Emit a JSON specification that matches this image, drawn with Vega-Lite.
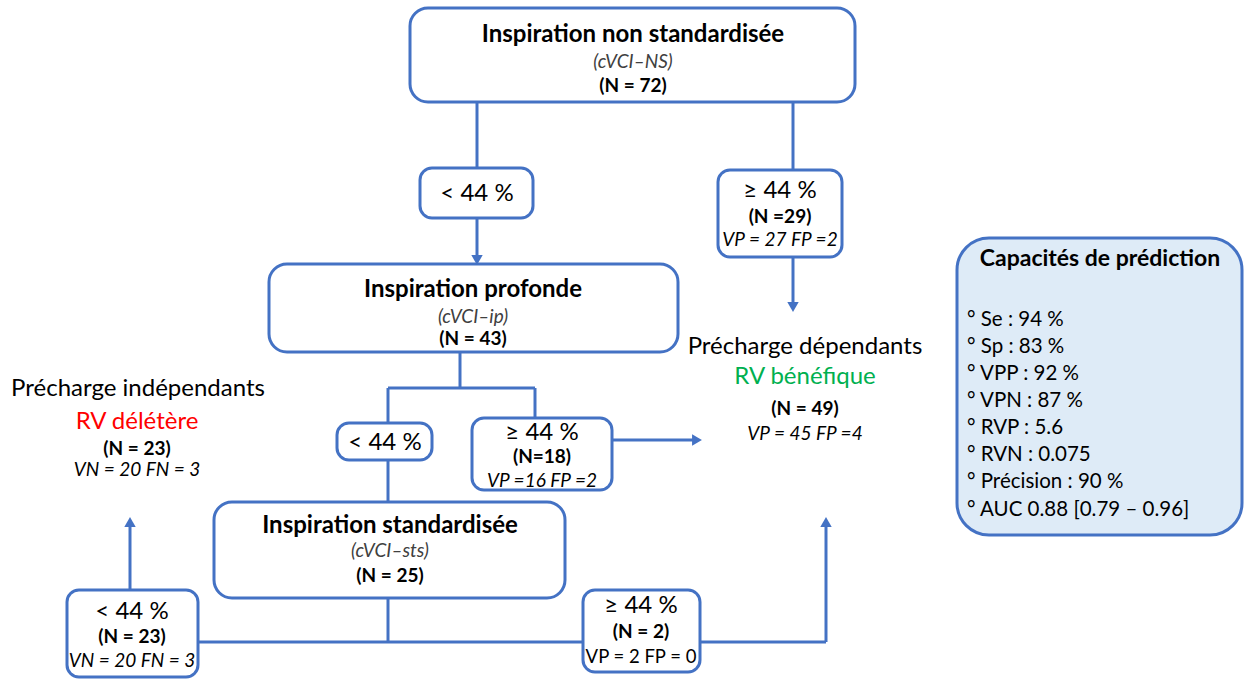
{
  "$schema": "https://vega.github.io/schema/vega-lite/v6.json",
  "width": 1245,
  "height": 680,
  "autosize": {"type": "fit", "contains": "padding"},
  "padding": 0,
  "background": "white",
  "config": {"view": {"stroke": null}, "text": {"font": "Lato"}},
  "datasets": {
    "boxes": [
      {"id": "root", "kind": "big", "x1": 410, "x2": 855, "y1": 8, "y2": 102},
      {"id": "lt1", "kind": "small", "x1": 420, "x2": 533, "y1": 168, "y2": 218},
      {"id": "ge1", "kind": "small", "x1": 718, "x2": 842, "y1": 170, "y2": 257},
      {"id": "ip", "kind": "big", "x1": 269, "x2": 678, "y1": 264, "y2": 352},
      {"id": "lt2", "kind": "small", "x1": 337, "x2": 432, "y1": 423, "y2": 460},
      {"id": "ge2", "kind": "small", "x1": 472, "x2": 612, "y1": 418, "y2": 490},
      {"id": "sts", "kind": "big", "x1": 214, "x2": 565, "y1": 502, "y2": 598},
      {"id": "lt3", "kind": "small", "x1": 67, "x2": 198, "y1": 590, "y2": 677},
      {"id": "ge3", "kind": "small", "x1": 583, "x2": 700, "y1": 590, "y2": 672},
      {"id": "pred", "kind": "pred", "x1": 957, "x2": 1242, "y1": 238, "y2": 535}
    ],
    "lines": [
      {"x1": 477, "y1": 102, "x2": 477, "y2": 168},
      {"x1": 793, "y1": 102, "x2": 793, "y2": 170},
      {"x1": 477, "y1": 218, "x2": 477, "y2": 258},
      {"x1": 793, "y1": 257, "x2": 793, "y2": 305},
      {"x1": 460, "y1": 352, "x2": 460, "y2": 388},
      {"x1": 388, "y1": 388, "x2": 535, "y2": 388},
      {"x1": 388, "y1": 388, "x2": 388, "y2": 423},
      {"x1": 535, "y1": 388, "x2": 535, "y2": 418},
      {"x1": 388, "y1": 460, "x2": 388, "y2": 502},
      {"x1": 612, "y1": 440, "x2": 694, "y2": 440},
      {"x1": 388, "y1": 598, "x2": 388, "y2": 642},
      {"x1": 198, "y1": 642, "x2": 583, "y2": 642},
      {"x1": 700, "y1": 642, "x2": 826, "y2": 642},
      {"x1": 826, "y1": 642, "x2": 826, "y2": 525},
      {"x1": 130, "y1": 590, "x2": 130, "y2": 525}
    ],
    "arrows": [
      {"x": 477, "y": 260, "dir": "down"},
      {"x": 793, "y": 307, "dir": "down"},
      {"x": 697, "y": 440, "dir": "right"},
      {"x": 826, "y": 522, "dir": "up"},
      {"x": 130, "y": 522, "dir": "up"}
    ],
    "texts": [
      {"x": 633, "y": 35, "t": "Inspiration non standardisée", "s": "title"},
      {"x": 633, "y": 62, "t": "(cVCI–NS)", "s": "sub"},
      {"x": 633, "y": 86, "t": "(N = 72)", "s": "n"},
      {"x": 477, "y": 194, "t": "< 44 %", "s": "big"},
      {"x": 780, "y": 191, "t": "≥ 44 %", "s": "big"},
      {"x": 780, "y": 217, "t": "(N =29)", "s": "n"},
      {"x": 780, "y": 240, "t": "VP = 27 FP =2", "s": "it"},
      {"x": 473, "y": 290, "t": "Inspiration profonde", "s": "title"},
      {"x": 473, "y": 317, "t": "(cVCI–ip)", "s": "sub"},
      {"x": 473, "y": 339, "t": "(N = 43)", "s": "n"},
      {"x": 805, "y": 347, "t": "Précharge dépendants", "s": "big"},
      {"x": 805, "y": 377, "t": "RV bénéfique", "s": "pos"},
      {"x": 805, "y": 409, "t": "(N = 49)", "s": "n"},
      {"x": 805, "y": 434, "t": "VP = 45 FP =4", "s": "it"},
      {"x": 138, "y": 389, "t": "Précharge indépendants", "s": "big"},
      {"x": 137, "y": 422, "t": "RV délétère", "s": "neg"},
      {"x": 137, "y": 449, "t": "(N = 23)", "s": "n"},
      {"x": 137, "y": 470, "t": "VN = 20 FN = 3", "s": "it"},
      {"x": 385, "y": 443, "t": "< 44 %", "s": "big"},
      {"x": 542, "y": 433, "t": "≥ 44 %", "s": "big"},
      {"x": 542, "y": 457, "t": "(N=18)", "s": "n"},
      {"x": 542, "y": 481, "t": "VP =16  FP =2", "s": "it"},
      {"x": 390, "y": 526, "t": "Inspiration standardisée", "s": "title"},
      {"x": 390, "y": 551, "t": "(cVCI–sts)", "s": "sub"},
      {"x": 390, "y": 576, "t": "(N = 25)", "s": "n"},
      {"x": 132, "y": 612, "t": "< 44 %", "s": "big"},
      {"x": 132, "y": 637, "t": "(N = 23)", "s": "n"},
      {"x": 132, "y": 661, "t": "VN = 20 FN = 3", "s": "it"},
      {"x": 641, "y": 606, "t": "≥ 44 %", "s": "big"},
      {"x": 641, "y": 632, "t": "(N = 2)", "s": "n"},
      {"x": 641, "y": 657, "t": "VP = 2 FP = 0", "s": "reg"},
      {"x": 1100, "y": 259, "t": "Capacités de prédiction", "s": "ptitle"},
      {"x": 967, "y": 320, "t": "° Se : 94 %", "s": "item"},
      {"x": 967, "y": 347, "t": "° Sp : 83 %", "s": "item"},
      {"x": 967, "y": 374, "t": "° VPP : 92 %", "s": "item"},
      {"x": 967, "y": 401, "t": "° VPN : 87 %", "s": "item"},
      {"x": 967, "y": 428, "t": "° RVP : 5.6", "s": "item"},
      {"x": 967, "y": 455, "t": "° RVN : 0.075", "s": "item"},
      {"x": 967, "y": 482, "t": "° Précision : 90 %", "s": "item"},
      {"x": 967, "y": 510, "t": "° AUC 0.88 [0.79 – 0.96]", "s": "item"}
    ]
  },
  "layer": [
    {
      "data": {"name": "lines"},
      "mark": {"type": "rule", "stroke": "#4472C4", "strokeWidth": 3},
      "encoding": {
        "x": {"field": "x1", "type": "quantitative", "scale": {"domain": [0, 1245], "nice": false, "zero": false}, "axis": null},
        "x2": {"field": "x2"},
        "y": {"field": "y1", "type": "quantitative", "scale": {"domain": [0, 680], "nice": false, "zero": false, "reverse": true}, "axis": null},
        "y2": {"field": "y2"}
      }
    },
    {
      "data": {"name": "boxes"},
      "transform": [{"filter": "datum.kind === 'small'"}],
      "mark": {"type": "rect", "fill": "white", "stroke": "#4472C4", "strokeWidth": 3, "cornerRadius": 12},
      "encoding": {
        "x": {"field": "x1", "type": "quantitative", "scale": {"domain": [0, 1245], "nice": false, "zero": false}, "axis": null},
        "x2": {"field": "x2"},
        "y": {"field": "y1", "type": "quantitative", "scale": {"domain": [0, 680], "nice": false, "zero": false, "reverse": true}, "axis": null},
        "y2": {"field": "y2"}
      }
    },
    {
      "data": {"name": "boxes"},
      "transform": [{"filter": "datum.kind === 'big'"}],
      "mark": {"type": "rect", "fill": "white", "stroke": "#4472C4", "strokeWidth": 3, "cornerRadius": 18},
      "encoding": {
        "x": {"field": "x1", "type": "quantitative", "scale": {"domain": [0, 1245], "nice": false, "zero": false}, "axis": null},
        "x2": {"field": "x2"},
        "y": {"field": "y1", "type": "quantitative", "scale": {"domain": [0, 680], "nice": false, "zero": false, "reverse": true}, "axis": null},
        "y2": {"field": "y2"}
      }
    },
    {
      "data": {"name": "boxes"},
      "transform": [{"filter": "datum.kind === 'pred'"}],
      "mark": {"type": "rect", "fill": "#DEEBF7", "stroke": "#4472C4", "strokeWidth": 3, "cornerRadius": 32},
      "encoding": {
        "x": {"field": "x1", "type": "quantitative", "scale": {"domain": [0, 1245], "nice": false, "zero": false}, "axis": null},
        "x2": {"field": "x2"},
        "y": {"field": "y1", "type": "quantitative", "scale": {"domain": [0, 680], "nice": false, "zero": false, "reverse": true}, "axis": null},
        "y2": {"field": "y2"}
      }
    },
    {
      "data": {"name": "arrows"},
      "mark": {"type": "point", "filled": true, "fill": "#4472C4", "opacity": 1, "size": 130},
      "encoding": {
        "x": {"field": "x", "type": "quantitative", "scale": {"domain": [0, 1245], "nice": false, "zero": false}, "axis": null},
        "y": {"field": "y", "type": "quantitative", "scale": {"domain": [0, 680], "nice": false, "zero": false, "reverse": true}, "axis": null},
        "shape": {"field": "dir", "type": "nominal", "scale": {"domain": ["down", "up", "right"], "range": ["triangle-down", "triangle-up", "triangle-right"]}, "legend": null}
      }
    },
    {
      "data": {"name": "texts"},
      "transform": [{"filter": "datum.s === 'title'"}],
      "mark": {"type": "text", "fontWeight": "bold", "fontSize": 24, "baseline": "middle", "align": "center", "color": "black"},
      "encoding": {
        "x": {"field": "x", "type": "quantitative", "scale": {"domain": [0, 1245], "nice": false, "zero": false}, "axis": null},
        "y": {"field": "y", "type": "quantitative", "scale": {"domain": [0, 680], "nice": false, "zero": false, "reverse": true}, "axis": null},
        "text": {"field": "t"}
      }
    },
    {
      "data": {"name": "texts"},
      "transform": [{"filter": "datum.s === 'sub'"}],
      "mark": {"type": "text", "fontStyle": "italic", "fontSize": 19, "baseline": "middle", "align": "center", "color": "#404040"},
      "encoding": {
        "x": {"field": "x", "type": "quantitative", "scale": {"domain": [0, 1245], "nice": false, "zero": false}, "axis": null},
        "y": {"field": "y", "type": "quantitative", "scale": {"domain": [0, 680], "nice": false, "zero": false, "reverse": true}, "axis": null},
        "text": {"field": "t"}
      }
    },
    {
      "data": {"name": "texts"},
      "transform": [{"filter": "datum.s === 'n'"}],
      "mark": {"type": "text", "fontWeight": "bold", "fontSize": 19, "baseline": "middle", "align": "center", "color": "black"},
      "encoding": {
        "x": {"field": "x", "type": "quantitative", "scale": {"domain": [0, 1245], "nice": false, "zero": false}, "axis": null},
        "y": {"field": "y", "type": "quantitative", "scale": {"domain": [0, 680], "nice": false, "zero": false, "reverse": true}, "axis": null},
        "text": {"field": "t"}
      }
    },
    {
      "data": {"name": "texts"},
      "transform": [{"filter": "datum.s === 'it'"}],
      "mark": {"type": "text", "fontStyle": "italic", "fontSize": 19, "baseline": "middle", "align": "center", "color": "black"},
      "encoding": {
        "x": {"field": "x", "type": "quantitative", "scale": {"domain": [0, 1245], "nice": false, "zero": false}, "axis": null},
        "y": {"field": "y", "type": "quantitative", "scale": {"domain": [0, 680], "nice": false, "zero": false, "reverse": true}, "axis": null},
        "text": {"field": "t"}
      }
    },
    {
      "data": {"name": "texts"},
      "transform": [{"filter": "datum.s === 'reg'"}],
      "mark": {"type": "text", "fontSize": 18.5, "baseline": "middle", "align": "center", "color": "black"},
      "encoding": {
        "x": {"field": "x", "type": "quantitative", "scale": {"domain": [0, 1245], "nice": false, "zero": false}, "axis": null},
        "y": {"field": "y", "type": "quantitative", "scale": {"domain": [0, 680], "nice": false, "zero": false, "reverse": true}, "axis": null},
        "text": {"field": "t"}
      }
    },
    {
      "data": {"name": "texts"},
      "transform": [{"filter": "datum.s === 'big' || datum.s === 'pos' || datum.s === 'neg'"}],
      "mark": {"type": "text", "fontSize": 24, "baseline": "middle", "align": "center"},
      "encoding": {
        "x": {"field": "x", "type": "quantitative", "scale": {"domain": [0, 1245], "nice": false, "zero": false}, "axis": null},
        "y": {"field": "y", "type": "quantitative", "scale": {"domain": [0, 680], "nice": false, "zero": false, "reverse": true}, "axis": null},
        "text": {"field": "t"},
        "color": {"field": "s", "type": "nominal", "scale": {"domain": ["big", "pos", "neg"], "range": ["#000000", "#00B050", "#FF0000"]}, "legend": null}
      }
    },
    {
      "data": {"name": "texts"},
      "transform": [{"filter": "datum.s === 'ptitle'"}],
      "mark": {"type": "text", "fontWeight": "bold", "fontSize": 23, "baseline": "middle", "align": "center", "color": "black"},
      "encoding": {
        "x": {"field": "x", "type": "quantitative", "scale": {"domain": [0, 1245], "nice": false, "zero": false}, "axis": null},
        "y": {"field": "y", "type": "quantitative", "scale": {"domain": [0, 680], "nice": false, "zero": false, "reverse": true}, "axis": null},
        "text": {"field": "t"}
      }
    },
    {
      "data": {"name": "texts"},
      "transform": [{"filter": "datum.s === 'item'"}],
      "mark": {"type": "text", "fontSize": 20.5, "baseline": "middle", "align": "left", "color": "black"},
      "encoding": {
        "x": {"field": "x", "type": "quantitative", "scale": {"domain": [0, 1245], "nice": false, "zero": false}, "axis": null},
        "y": {"field": "y", "type": "quantitative", "scale": {"domain": [0, 680], "nice": false, "zero": false, "reverse": true}, "axis": null},
        "text": {"field": "t"}
      }
    }
  ]
}
